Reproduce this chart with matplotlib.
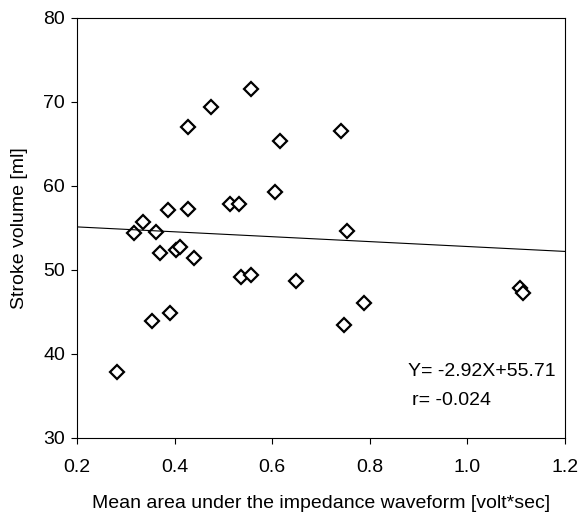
import matplotlib
matplotlib.use("Agg")
import matplotlib.pyplot as plt
import numpy as np

plt.rcParams['font.family'] = ['Liberation Sans', 'DejaVu Sans']

area = [0.281, 0.317, 0.335, 0.362, 0.371, 0.353, 0.387, 0.390, 0.402, 0.412,
        0.428, 0.428, 0.440, 0.474, 0.514, 0.532, 0.537, 0.556, 0.557, 0.605,
        0.617, 0.649, 0.741, 0.753, 0.747, 0.788, 1.108, 1.114]
stroke = [37.9, 54.4, 55.7, 54.5, 52.0, 43.9, 57.1, 44.9, 52.4, 52.7,
          67.0, 57.3, 51.4, 69.4, 57.8, 57.9, 49.2, 71.5, 49.4, 59.3,
          65.4, 48.7, 66.5, 54.6, 43.4, 46.1, 47.8, 47.2]
slope, intercept = -2.92, 55.71
xticks = [0.2, 0.4, 0.6, 0.8, 1.0, 1.2]
xticklabels = ['0.2', '0.4', '0.6', '0.8', '1.0', '1.2']
yticks = [30, 40, 50, 60, 70, 80]

fig = plt.figure(figsize=(5.81, 5.14), dpi=100)
ax = fig.add_axes([0.1325, 0.148, 0.84, 0.817])

ax.plot(area, stroke, linestyle='none', marker='D', markersize=6.8,
        markerfacecolor='white', markeredgecolor='black', markeredgewidth=1.6)
xl = np.array([0.2, 1.2])
ax.plot(xl, slope * xl + intercept, color='black', linewidth=0.8)

ax.set_xlim(0.2, 1.2)
ax.set_ylim(30, 80)
ax.set_xticks(xticks)
ax.set_xticklabels(xticklabels)
ax.set_yticks(yticks)
ax.tick_params(direction='out', length=4.5, width=0.8, labelsize=14, colors='black')
ax.tick_params(axis='x', pad=10.5)
ax.tick_params(axis='y', pad=4)
for s in ax.spines.values():
    s.set_linewidth(0.8)

ax.set_xlabel('Mean area under the impedance waveform [volt*sec]', fontsize=14, labelpad=13.5)
ax.set_ylabel('Stroke volume [ml]', fontsize=14, labelpad=11)

ax.text(0.878, 37.86, 'Y= -2.92X+55.71', fontsize=14, ha='left', va='center')
ax.text(0.886, 34.5, 'r= -0.024', fontsize=14, ha='left', va='center')

fig.savefig('out.png', dpi=100)
